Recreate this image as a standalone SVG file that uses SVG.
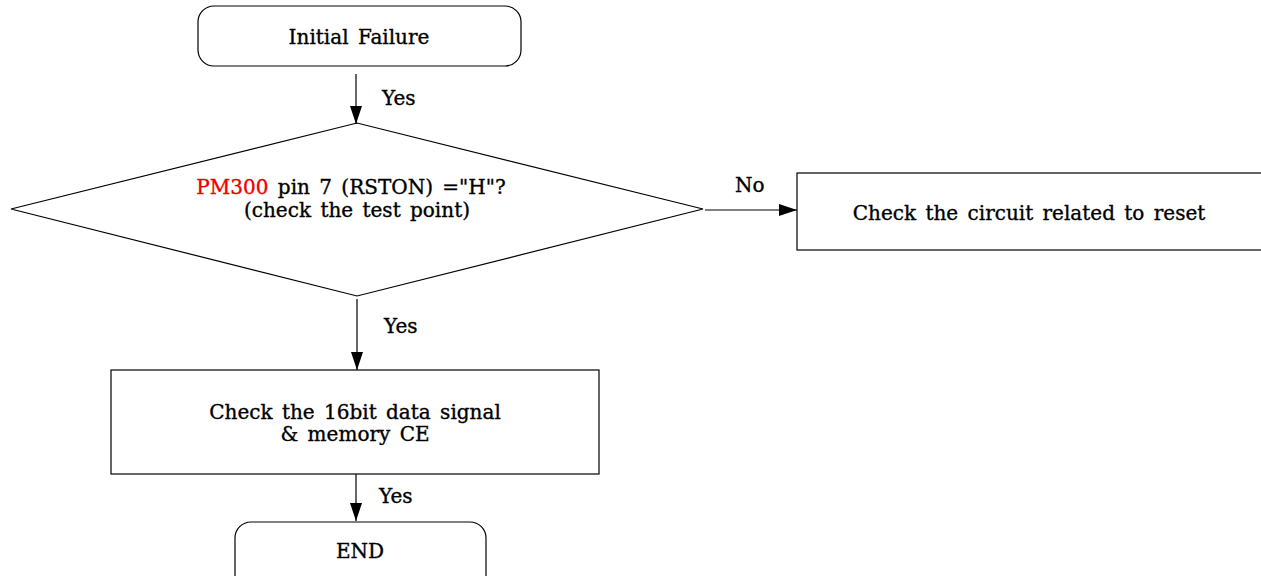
<svg xmlns="http://www.w3.org/2000/svg" width="1261" height="576" viewBox="0 0 1261 576">
<style>
.s{fill:#fff;stroke:#000;stroke-width:1.2}
.t{font-family:"DejaVu Serif","Liberation Serif",serif;font-size:20px;fill:#000;stroke:#000;stroke-width:0.35;word-spacing:3px}
.r{fill:#e00;stroke:#e00}
.c{text-anchor:middle}
.l{stroke:#000;stroke-width:1.2;fill:none}
</style>
<defs>
<marker id="a" viewBox="0 0 18 12" refX="18" refY="6" markerWidth="18" markerHeight="12" markerUnits="userSpaceOnUse" orient="auto">
<path d="M0,0L18,6L0,12Z" fill="#000"/>
</marker>
</defs>
<rect width="1261" height="576" fill="#fff"/>
<g id="start">
<rect class="s" x="198" y="6" width="323" height="60" rx="16"/>
<text class="t c" x="359" y="44">Initial Failure</text>
</g>
<g id="decision">
<polygon class="s" points="11,209 357,123 703,209 357,296"/>
<text class="t c" x="351" y="194"><tspan class="r">PM300</tspan> pin 7 (RSTON) ="H"?</text>
<text class="t c" x="357" y="217">(check the test point)</text>
</g>
<g id="reset">
<rect class="s" x="797" y="173" width="470" height="77"/>
<text class="t c" x="1029" y="220">Check the circuit related to reset</text>
</g>
<g id="check">
<rect class="s" x="111" y="370" width="488" height="104"/>
<text class="t c" x="355" y="419">Check the 16bit data signal</text>
<text class="t c" x="355" y="441">&amp; memory CE</text>
</g>
<g id="end">
<rect class="s" x="235" y="522" width="251" height="70" rx="16"/>
<text class="t c" x="360" y="558">END</text>
</g>
<g id="connectors">
<line class="l" x1="356" y1="74" x2="356" y2="124" marker-end="url(#a)"/>
<line class="l" x1="705" y1="210" x2="797" y2="210" marker-end="url(#a)"/>
<line class="l" x1="357" y1="299" x2="357" y2="370" marker-end="url(#a)"/>
<line class="l" x1="356" y1="474" x2="356" y2="521" marker-end="url(#a)"/>
<text class="t" x="382" y="105">Yes</text>
<text class="t" x="735" y="192">No</text>
<text class="t" x="384" y="333">Yes</text>
<text class="t" x="379" y="503">Yes</text>
</g>
</svg>
